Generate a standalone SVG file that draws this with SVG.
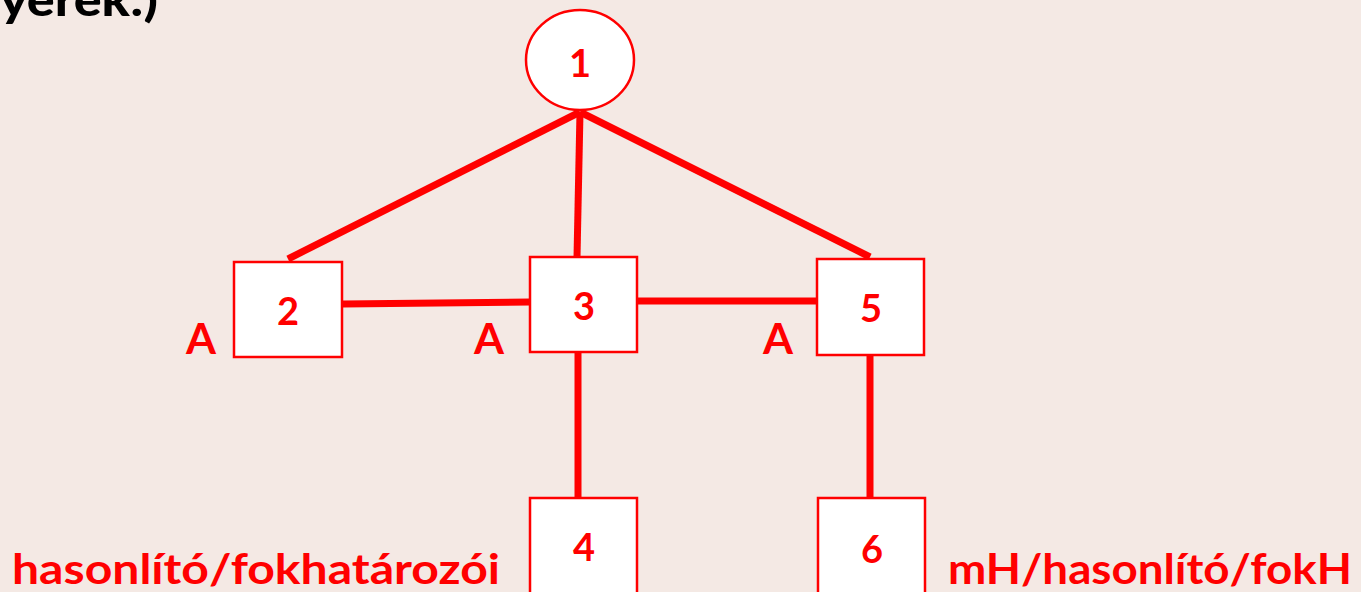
<svg xmlns="http://www.w3.org/2000/svg" width="1361" height="592" viewBox="0 0 1361 592">
<style>
.node{fill:#ffffff;stroke:#ff0000;stroke-width:2.5}
.num{font-family:"Source Sans Pro","Lato","Liberation Sans",sans-serif;font-weight:700;font-size:38px;fill:#ff0000;text-anchor:middle}
.lbl{font-family:"Source Sans Pro","Lato","Liberation Sans",sans-serif;font-weight:700;font-size:42px;fill:#ff0000}
.edge{stroke:#ff0000;stroke-width:7;fill:none}
</style>
<rect width="1361" height="592" fill="#f4e9e4"/>
<text x="0" y="16" font-family="Lato, 'Liberation Sans', sans-serif" font-weight="900" font-size="46" fill="#000000" textLength="158" lengthAdjust="spacingAndGlyphs">yerek:)</text>
<g id="connectors">
<line class="edge" x1="580" y1="112" x2="288" y2="259"/>
<line class="edge" x1="580" y1="112" x2="577" y2="257"/>
<line class="edge" x1="580" y1="112" x2="870" y2="257"/>
<line class="edge" x1="343" y1="304" x2="530" y2="302"/>
<line class="edge" x1="637" y1="301" x2="817" y2="301"/>
<line class="edge" x1="578" y1="353" x2="578" y2="498"/>
<line class="edge" x1="870" y1="356" x2="870" y2="498"/>
</g>
<g id="node1"><ellipse class="node" cx="580" cy="60" rx="54" ry="50"/><text class="num" x="580" y="77">1</text></g>
<g id="node2"><rect class="node" x="234" y="262" width="108" height="95"/><text class="num" x="288" y="325">2</text></g>
<g id="node3"><rect class="node" x="530" y="257" width="107" height="95"/><text class="num" x="584" y="320">3</text></g>
<g id="node5"><rect class="node" x="817" y="259" width="107" height="96"/><text class="num" x="871" y="322">5</text></g>
<g id="node4"><rect class="node" x="530" y="498" width="107" height="100"/><text class="num" x="584" y="561">4</text></g>
<g id="node6"><rect class="node" x="818" y="498" width="107" height="100"/><text class="num" x="872" y="563">6</text></g>
<g id="labels">
<text class="lbl" x="186" y="354" textLength="30" lengthAdjust="spacingAndGlyphs">A</text>
<text class="lbl" x="474" y="354" textLength="30" lengthAdjust="spacingAndGlyphs">A</text>
<text class="lbl" x="763" y="354" textLength="30" lengthAdjust="spacingAndGlyphs">A</text>
<text class="lbl" x="12" y="584" textLength="488" lengthAdjust="spacingAndGlyphs">hasonlító/fokhatározói</text>
<text class="lbl" x="948" y="584" textLength="404" lengthAdjust="spacingAndGlyphs">mH/hasonlító/fokH</text>
</g>
</svg>
